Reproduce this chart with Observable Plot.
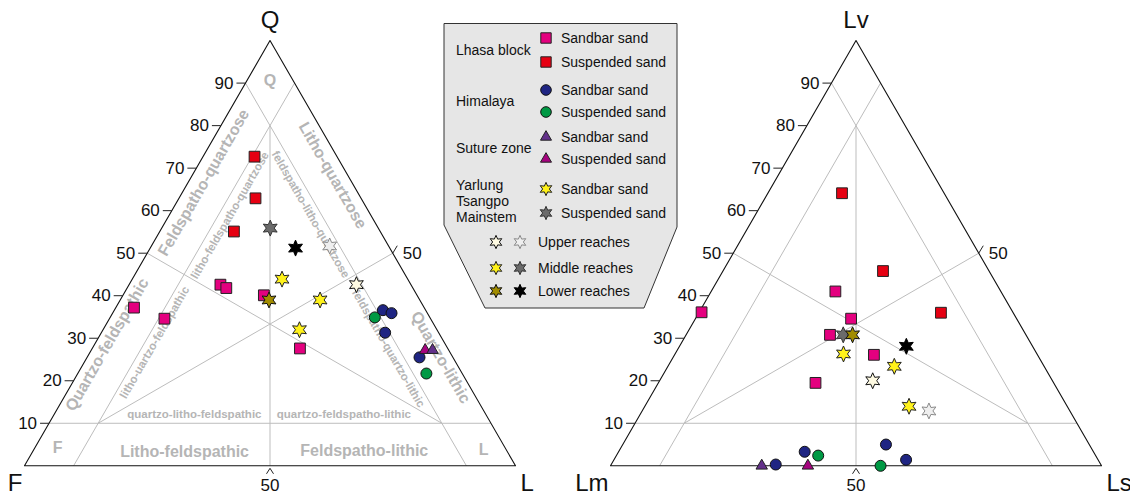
<!DOCTYPE html>
<html><head><meta charset="utf-8">
<script src="https://cdn.jsdelivr.net/npm/d3@7"></script>
<script src="https://cdn.jsdelivr.net/npm/@observablehq/plot@0.6"></script>
<style>
body{margin:0;background:#fff;}
#wrap{position:relative;width:1130px;height:496px;}
#wrap svg{position:absolute;left:0;top:0;}
</style></head><body><div id="wrap"></div>
<script>
// ---------- DATA: compositions [top, left, right] in % ----------
// QFL diagram: [Q, F, L]
const qflLhasaSandbar = [[37.2,59.1,3.7],[34.6,54.2,11.2],[42.6,38.8,18.6],[41.8,38.0,20.2],[40.1,31.2,28.7],[27.6,30.1,42.3]];
const qflLhasaSuspended = [[72.7,16.8,10.5],[62.9,21.5,15.6],[55.1,29.8,15.1]];
const qflHimalayaSandbar = [[36.6,8.7,54.7],[35.9,7.3,56.8],[31.3,10.9,57.8],[25.5,6.8,67.7]];
const qflHimalayaSuspended = [[34.9,11.2,53.9],[21.7,7.3,71.0]];
const qflSutureSandbar = [[27.2,3.3,69.5]];
const qflSutureSuspended = [[27.2,4.8,68.0]];
const qflUpperSandbar = [[42.6,11.1,46.3]];
const qflUpperSuspended = [[51.7,12.0,36.3]];
const qflMiddleSandbar = [[43.9,25.6,30.5],[39.0,20.3,40.7],[32.0,28.0,40.0]];
const qflMiddleSuspended = [[55.9,22.0,22.1]];
const qflLowerSandbar = [[39.0,30.7,30.3]];
const qflLowerSuspended = [[51.2,19.2,29.6]];
// Lithic diagram: [Lv, Lm, Ls]
const lLhasaSandbar = [[36.1,63.4,0.5],[41.0,33.7,25.3],[34.6,33.7,31.7],[30.8,39.9,29.3],[26.1,33.3,40.6],[19.5,48.5,32.0]];
const lLhasaSuspended = [[64.1,20.8,15.1],[45.8,21.6,32.6],[36.0,14.7,49.3]];
const lHimalayaSandbar = [[0.3,66.2,33.5],[3.3,58.8,37.9],[5.0,41.4,53.6],[1.4,39.1,59.5]];
const lHimalayaSuspended = [[2.4,56.5,41.1],[0,45.0,55.0]];
const lSutureSandbar = [[0,69.2,30.8]];
const lSutureSuspended = [[0,59.8,40.2]];
const lUpperSandbar = [[20.0,36.6,43.4]];
const lUpperSuspended = [[12.9,28.7,58.4]];
const lMiddleSandbar = [[26.3,39.4,34.3],[23.4,30.5,46.1],[14.0,32.2,53.8]];
const lMiddleSuspended = [[30.8,37.2,32.0]];
const lLowerSandbar = [[30.8,35.3,33.9]];
const lLowerSuspended = [[28.1,25.7,46.2]];

const qflVertices = ["Q","F","L"];
const lithicVertices = ["Lv","Lm","Ls"];
const tickValues = [10,20,30,40,50,60,70,80,90];
const sideTickValue = [50];
// classification boundaries (endpoints as compositions)
const gridSegments = [
  [[10,90,0],[10,0,90]],
  [[90,10,0],[0,10,90]],
  [[90,0,10],[0,90,10]],
  [[80,10,10],[0,50,50]],
  [[50,50,0],[10,10,80]],
  [[50,0,50],[10,80,10]]
];
const regionBig = [
  {text:"Feldspatho-quartzose", c:[66.6,30.2,3.2], rot:-60},
  {text:"Quartzo-feldspathic", c:[28.5,68.9,2.6], rot:-60},
  {text:"Litho-quartzose", c:[68.3,3.1,28.6], rot:60},
  {text:"Quartzo-lithic", c:[25.5,2.5,72.0], rot:60},
  {text:"Litho-feldspathic", c:[3.2,65.8,31.0], rot:0},
  {text:"Feldspatho-lithic", c:[3.4,29.1,67.5], rot:0},
  {text:"Q", c:[90.6,4.7,4.7], rot:0},
  {text:"F", c:[4.1,91.2,4.7], rot:0},
  {text:"L", c:[3.8,4.6,91.6], rot:0}
];
const regionSmall = [
  {text:"litho-feldspatho-quartzose", c:[58.9,28.7,12.4], rot:-60},
  {text:"litho-uartzo-feldspathic", c:[29.0,59.0,12.0], rot:-60},
  {text:"feldspatho-litho-quartzose", c:[59.1,12.2,28.7], rot:60},
  {text:"feldspatho-quartzo-lithic", c:[27.6,12.1,60.3], rot:60},
  {text:"quartzo-litho-feldspathic", c:[12.0,59.4,28.6], rot:0},
  {text:"quartzo-feldspatho-lithic", c:[12.1,28.9,59.0], rot:0}
];
const provenances = ["Lhasa block","Himalaya","Suture zone","Yarlung\nTsangpo\nMainstem"];
const sampleTypes = ["Sandbar sand","Suspended sand"];
const reaches = ["Upper reaches","Middle reaches","Lower reaches"];

// ---------- symbols ----------
const rOf = s => Math.sqrt(s/Math.PI);
const symSquare = {draw(ctx,s){const h=rOf(s)*0.98; ctx.moveTo(-h,-h); ctx.lineTo(h,-h); ctx.lineTo(h,h); ctx.lineTo(-h,h); ctx.closePath();}};
const symCircle = {draw(ctx,s){const r=rOf(s); ctx.moveTo(r,0); ctx.arc(0,0,r,0,2*Math.PI);}};
const symTriangle = {draw(ctx,s){const r=rOf(s)*1.2; ctx.moveTo(0,-r); ctx.lineTo(r*0.866,r*0.5); ctx.lineTo(-r*0.866,r*0.5); ctx.closePath();}};
const symStar = {draw(ctx,s){const R=rOf(s)*1.45, ri=R*0.5; for(let i=0;i<12;i++){const a=-Math.PI/2+i*Math.PI/6, rr=i%2?ri:R; const px=rr*Math.cos(a), py=rr*Math.sin(a); if(i===0) ctx.moveTo(px,py); else ctx.lineTo(px,py);} ctx.closePath();}};
const symTickLeft = {draw(ctx){ctx.moveTo(-9,0); ctx.lineTo(0,0);}};
const symTickSide = {draw(ctx){ctx.moveTo(0,0); ctx.lineTo(4.5,-7.5);}};
const symCaret = {draw(ctx){ctx.moveTo(-3.5,8); ctx.lineTo(0,2.5); ctx.lineTo(3.5,8);}};

const styles = {
  lhasaSandbar:{symbol:symSquare, fill:"#e4007f", stroke:"#222"},
  lhasaSuspended:{symbol:symSquare, fill:"#e60012", stroke:"#222"},
  himalayaSandbar:{symbol:symCircle, fill:"#1f2583", stroke:"#111"},
  himalayaSuspended:{symbol:symCircle, fill:"#009944", stroke:"#111"},
  sutureSandbar:{symbol:symTriangle, fill:"#63318a", stroke:"#222"},
  sutureSuspended:{symbol:symTriangle, fill:"#a6037f", stroke:"#222"},
  upperSandbar:{symbol:symStar, fill:"#fffbe3", stroke:"#111"},
  upperSuspended:{symbol:symStar, fill:"#efefef", stroke:"#8a8a8a"},
  middleSandbar:{symbol:symStar, fill:"#fff21a", stroke:"#222"},
  middleSuspended:{symbol:symStar, fill:"#6b6b6b", stroke:"#333"},
  lowerSandbar:{symbol:symStar, fill:"#a18c00", stroke:"#111"},
  lowerSuspended:{symbol:symStar, fill:"#000", stroke:"#000"}
};

// ---------- geometry ----------
const PX = 4.91;
const S3 = Math.sqrt(3)/2;
const OFF = [0, 119.35];
function pos(c, off){const [t,l,r]=c; const s=t+l+r; return {x: off + (r + t/2)*100/s, y: t*S3*100/s};}
const FONT = "'Liberation Sans', Arial, Helvetica, sans-serif";

function triangleMarks(off, vertices, sets, withRegions){
  const X = d => pos(d,off).x, Y = d => pos(d,off).y;
  const marks = [];
  marks.push(Plot.link(gridSegments, {x1:d=>X(d[0]), y1:d=>Y(d[0]), x2:d=>X(d[1]), y2:d=>Y(d[1]), stroke:"#bdbdbd", strokeWidth:1}));
  if (withRegions) {
    for (const rot of [-60,0,60]) {
      marks.push(Plot.text(regionBig.filter(d=>d.rot===rot), {x:d=>X(d.c), y:d=>Y(d.c), text:"text", rotate:rot, fontSize:16, fontWeight:"bold", fill:"#b5b5b5"}));
      marks.push(Plot.text(regionSmall.filter(d=>d.rot===rot), {x:d=>X(d.c), y:d=>Y(d.c), text:"text", rotate:rot, fontSize:11.5, fontWeight:"bold", fill:"#b5b5b5"}));
    }
  }
  const corners = [[100,0,0],[0,100,0],[0,0,100],[100,0,0]];
  marks.push(Plot.line(corners, {x:X, y:Y, stroke:"#111", strokeWidth:1.1}));
  // left edge ticks
  const leftPt = q => [q,100-q,0];
  marks.push(Plot.dot(tickValues, {x:q=>X(leftPt(q)), y:q=>Y(leftPt(q)), symbol:symTickLeft, r:5, fill:"none", stroke:"#222", strokeWidth:1}));
  marks.push(Plot.text(tickValues, {x:q=>X(leftPt(q)), y:q=>Y(leftPt(q)), text:d=>String(d), dx:-12, textAnchor:"end", fontSize:17, fill:"#111"}));
  // right edge tick
  const rightPt = q => [q,0,100-q];
  marks.push(Plot.dot(sideTickValue, {x:q=>X(rightPt(q)), y:q=>Y(rightPt(q)), symbol:symTickSide, r:5, fill:"none", stroke:"#222", strokeWidth:1}));
  marks.push(Plot.text(sideTickValue, {x:q=>X(rightPt(q)), y:q=>Y(rightPt(q)), text:d=>String(d), dx:10, textAnchor:"start", fontSize:17, fill:"#111"}));
  // base tick
  const basePt = q => [0,100-q,q];
  marks.push(Plot.dot(sideTickValue, {x:q=>X(basePt(q)), y:q=>Y(basePt(q)), symbol:symCaret, r:5, fill:"none", stroke:"#222", strokeWidth:1}));
  marks.push(Plot.text(sideTickValue, {x:q=>X(basePt(q)), y:q=>Y(basePt(q)), text:d=>String(d), dy:20, fontSize:17, fill:"#111"}));
  // vertex labels
  const vc = [[100,0,0],[0,100,0],[0,0,100]];
  marks.push(Plot.text([vertices[0]], {x:()=>X(vc[0]), y:()=>Y(vc[0]), text:d=>d, dy:-20, fontSize:24, fill:"#111"}));
  marks.push(Plot.text([vertices[1]], {x:()=>X(vc[1]), y:()=>Y(vc[1]), text:d=>d, dy:18, dx:-2, textAnchor:"end", fontSize:24, fill:"#111"}));
  marks.push(Plot.text([vertices[2]], {x:()=>X(vc[2]), y:()=>Y(vc[2]), text:d=>d, dy:18, dx:5, textAnchor:"start", fontSize:24, fill:"#111"}));
  // data points
  for (const [key, arr] of sets) {
    const st = styles[key];
    marks.push(Plot.dot(arr, {x:X, y:Y, symbol:st.symbol, r:5.5, fill:st.fill, stroke:st.stroke, strokeWidth:1}));
  }
  return marks;
}

const qflSets = [
  ["lhasaSandbar", qflLhasaSandbar], ["lhasaSuspended", qflLhasaSuspended],
  ["himalayaSuspended", qflHimalayaSuspended], ["himalayaSandbar", qflHimalayaSandbar],
  ["sutureSuspended", qflSutureSuspended], ["sutureSandbar", qflSutureSandbar],
  ["upperSuspended", qflUpperSuspended], ["middleSuspended", qflMiddleSuspended], ["lowerSuspended", qflLowerSuspended],
  ["upperSandbar", qflUpperSandbar], ["middleSandbar", qflMiddleSandbar], ["lowerSandbar", qflLowerSandbar]
];
const lSets = [
  ["lhasaSandbar", lLhasaSandbar], ["lhasaSuspended", lLhasaSuspended],
  ["himalayaSuspended", lHimalayaSuspended], ["himalayaSandbar", lHimalayaSandbar],
  ["sutureSuspended", lSutureSuspended], ["sutureSandbar", lSutureSandbar],
  ["upperSuspended", lUpperSuspended], ["middleSuspended", lMiddleSuspended], ["lowerSuspended", lLowerSuspended],
  ["upperSandbar", lUpperSandbar], ["middleSandbar", lMiddleSandbar], ["lowerSandbar", lLowerSandbar]
];

const plot = Plot.plot({
  width: 1130, height: 496, margin: 0,
  x: {domain: [-24/PX, (1130-24)/PX], axis: null},
  y: {domain: [(465.3-496)/PX, 465.3/PX], axis: null},
  style: {fontFamily: FONT, background: "transparent", overflow: "visible"},
  marks: [
    ...triangleMarks(OFF[0], qflVertices, qflSets, true),
    ...triangleMarks(OFF[1], lithicVertices, lSets, false)
  ]
});
const wrap = document.getElementById("wrap");
wrap.appendChild(plot);

// ---------- legend ----------
const lg = d3.create("svg").attr("width",1130).attr("height",496).style("pointer-events","none")
  .style("font-family", FONT);
lg.append("polygon").attr("points","444,23.5 677,23.5 677,227 644,308 485,308 444,225")
  .attr("fill","#e6e6e6").attr("stroke","#333").attr("stroke-width",1);
const groupKeys = [["lhasaSandbar","lhasaSuspended"],["himalayaSandbar","himalayaSuspended"],["sutureSandbar","sutureSuspended"],["middleSandbar","middleSuspended"]];
const rowY = [[38,62],[90,112],[137,159],[189,213]];
const groupY = [50,101,148,185];
provenances.forEach((name,i)=>{
  const lines = name.split("\n");
  const t = lg.append("text").attr("x",456).attr("font-size",14).attr("fill","#111");
  lines.forEach((ln,j)=>t.append("tspan").attr("x",456).attr("y",groupY[i]+j*16).attr("dy","0.35em").text(ln));
  sampleTypes.forEach((st,j)=>{
    const s = styles[groupKeys[i][j]];
    const r = s.symbol===symStar ? 4.6 : 5.3;
    lg.append("path").attr("d", d3.symbol(s.symbol, Math.PI*r*r)()).attr("transform",`translate(546,${rowY[i][j]})`)
      .attr("fill", s.fill).attr("stroke", s.stroke).attr("stroke-width",1);
    lg.append("text").attr("x",561).attr("y",rowY[i][j]).attr("dy","0.35em").attr("font-size",14).attr("fill","#111").text(st);
  });
});
const reachKeys = [["upperSandbar","upperSuspended"],["middleSandbar","middleSuspended"],["lowerSandbar","lowerSuspended"]];
const reachY = [242,268,291];
reaches.forEach((name,i)=>{
  reachKeys[i].forEach((k,j)=>{
    const s = styles[k];
    lg.append("path").attr("d", d3.symbol(s.symbol, Math.PI*4.6*4.6)()).attr("transform",`translate(${j?520:496},${reachY[i]})`)
      .attr("fill", s.fill).attr("stroke", s.stroke).attr("stroke-width",1);
  });
  lg.append("text").attr("x",538).attr("y",reachY[i]).attr("dy","0.35em").attr("font-size",14).attr("fill","#111").text(name);
});
wrap.appendChild(lg.node());
</script>
</body></html>
